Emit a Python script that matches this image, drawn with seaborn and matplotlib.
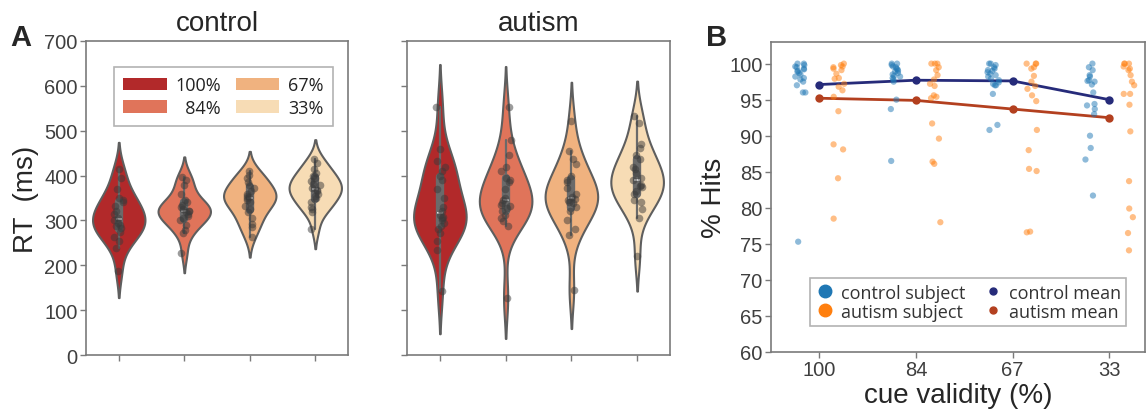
import numpy as np
import pandas as pd
import matplotlib
matplotlib.use("Agg")
import matplotlib.pyplot as plt
import seaborn as sns
from matplotlib.patches import Patch
from matplotlib.lines import Line2D

np.random.seed(3)

# ---------------- data ----------------
cue_levels = ["100%", "84%", "67%", "33%"]
cue_colors = ["#b2292a", "#e0745a", "#f0b27f", "#f7dcb5"]

# Panel A: reaction times (ms) per subject
rt_control_100 = [415, 395, 370, 350, 345, 340, 332, 320, 315, 305, 300, 295, 290, 288, 283, 275, 262, 255, 238, 187]
rt_control_84 = [397, 390, 380, 360, 345, 340, 335, 330, 325, 322, 320, 318, 315, 310, 305, 300, 290, 278, 272, 228]
rt_control_67 = [410, 402, 395, 385, 378, 372, 365, 360, 355, 352, 350, 345, 340, 332, 325, 318, 305, 292, 285, 262]
rt_control_33 = [437, 428, 415, 405, 400, 395, 388, 382, 378, 372, 368, 365, 360, 355, 350, 340, 330, 325, 318, 280]

rt_autism_100 = [553, 460, 432, 420, 410, 400, 390, 370, 350, 330, 320, 312, 308, 305, 302, 295, 288, 280, 272, 255, 235, 142]
rt_autism_84 = [552, 480, 445, 420, 410, 395, 390, 385, 370, 350, 345, 338, 335, 332, 328, 320, 312, 305, 298, 288, 128]
rt_autism_67 = [522, 455, 438, 425, 400, 390, 385, 372, 360, 352, 348, 345, 342, 338, 330, 320, 300, 282, 268, 145]
rt_autism_33 = [533, 517, 470, 462, 445, 437, 420, 415, 405, 395, 390, 380, 377, 375, 365, 360, 345, 340, 325, 305, 220]

# Panel B: % hits per subject
cue_validity = ["100", "84", "67", "33"]
hits_control_100 = [100, 100, 99.8, 99.6, 99.5, 99.3, 99.2, 99, 98.9, 98.7, 98.5, 98.2, 98, 97.8, 97.5, 97, 96, 96, 75.3]
hits_control_84 = [100, 100, 99.8, 99.6, 99.5, 99.3, 99.2, 99, 98.9, 98.7, 98.5, 98.3, 98.2, 98, 97.8, 97.5, 95, 93.7, 86.5]
hits_control_67 = [100, 100, 99.8, 99.5, 99.3, 99.1, 99, 98.8, 98.6, 98.4, 98.2, 97.9, 97.7, 97.4, 97.2, 97, 97, 95.8, 91.5, 90.8]
hits_control_33 = [100, 99.5, 99.1, 98.4, 98.2, 97.7, 97.6, 97.5, 97.1, 96, 94.4, 94.2, 93.7, 93, 90, 88.3, 86.7, 81.7]

hits_autism_100 = [100, 99.8, 99.6, 99.5, 99.3, 99.1, 98.6, 98, 97.9, 97.2, 96.8, 96.3, 95.4, 93.4, 88.8, 88.1, 84.1, 78.5]
hits_autism_84 = [100, 100, 100, 99.5, 99.1, 98.4, 97.8, 97.2, 96.9, 95.6, 95.4, 95.2, 91.7, 89.6, 86.4, 86.1, 78]
hits_autism_67 = [100, 100, 100, 99.5, 99.3, 98.3, 97.5, 96.9, 96.5, 95.6, 94.8, 90.8, 88, 85.4, 85.1, 76.7, 76.6]
hits_autism_33 = [100, 100, 100, 99.6, 99.3, 99.1, 98.4, 97.5, 97, 95.8, 95.8, 94.3, 90.6, 83.7, 79.9, 78.7, 76.5, 74.1]

control_mean = [97.1, 97.7, 97.6, 95.0]
autism_mean = [95.2, 94.9, 93.7, 92.5]

groups = ["control", "autism"]

# ---------------- build tables ----------------
def long_rt(lists):
    rows = []
    for lvl, vals in zip(cue_levels, lists):
        rows += [(lvl, v) for v in vals]
    return pd.DataFrame(rows, columns=["cue", "rt"])

df_rt = {
    "control": long_rt([rt_control_100, rt_control_84, rt_control_67, rt_control_33]),
    "autism": long_rt([rt_autism_100, rt_autism_84, rt_autism_67, rt_autism_33]),
}

rows = []
for grp, lists in [("control", [hits_control_100, hits_control_84, hits_control_67, hits_control_33]),
                   ("autism", [hits_autism_100, hits_autism_84, hits_autism_67, hits_autism_33])]:
    for cv, vals in zip(cue_validity, lists):
        rows += [(grp, cv, v) for v in vals]
df_hits = pd.DataFrame(rows, columns=["group", "cue", "hits"])
df_means = pd.DataFrame({"cue": cue_validity * 2,
                         "hits": control_mean + autism_mean,
                         "group": ["control"] * 4 + ["autism"] * 4})

# ---------------- style ----------------
sns.set_style("white")
plt.rcParams["font.family"] = ["Liberation Sans", "DejaVu Sans"]
spine_c = "#7a7a7a"
tick_c = "#3f3f3f"

W, H = 1147, 414
fig = plt.figure(figsize=(W / 100, H / 100), dpi=100)

def fax(l, t, r, b):
    return fig.add_axes([l / W, 1 - b / H, (r - l) / W, (b - t) / H])

axA1 = fax(86, 42, 348, 356)
axA2 = fax(407, 42, 670, 356)
axB = fax(771, 43, 1145, 353)

def style_axis(ax):
    for s in ax.spines.values():
        s.set_color(spine_c)
        s.set_linewidth(1.2)
    ax.tick_params(axis="both", which="major", direction="out", length=4, width=1,
                   color=spine_c, labelsize=14.5, labelcolor=tick_c, pad=2,
                   bottom=True, left=True, top=False, right=False)

for ax, grp in [(axA1, "control"), (axA2, "autism")]:
    d = df_rt[grp]
    sns.violinplot(data=d, x="cue", y="rt", hue="cue", order=cue_levels, hue_order=cue_levels,
                   palette=cue_colors, saturation=1, legend=False, inner="box",
                   inner_kws=dict(box_width=6, whis_width=1.6, color="#6a6a6a"),
                   linecolor="#5e5e5e", linewidth=1.5, width=0.8, ax=ax)
    sns.stripplot(data=d, x="cue", y="rt", order=cue_levels, color="#3a3a3a", alpha=0.5,
                  size=5.5, jitter=0.08, ax=ax)
    ax.set_ylim(0, 700)
    ax.set_xlim(-0.5, 3.5)
    ax.set_yticks(range(0, 701, 100))
    ax.set_xticklabels([])
    ax.set_xlabel("")
    ax.set_ylabel("")
    ax.set_title(grp, fontsize=20, pad=8)
    style_axis(ax)

axA1.set_ylabel("RT  (ms)", fontsize=20, labelpad=4)
axA2.set_yticklabels([])

handles = [Patch(facecolor=c, edgecolor="none", label=l) for c, l in zip(cue_colors, ["100%", "  84%", "67%", "33%"])]
legA = axA1.legend(handles=handles, ncol=2, loc="upper center", bbox_to_anchor=(0.525, 0.945),
                   fancybox=False, edgecolor="#a0a0a0", handlelength=2.4,
                   handleheight=0.7, handletextpad=0.5, columnspacing=0.8, labelspacing=0.25,
                   borderpad=0.5, prop={"family": ["Open Sans", "DejaVu Sans"], "size": 13})
legA.get_frame().set_linewidth(1.2)

# ---------------- panel B ----------------
sns.stripplot(data=df_hits, x="cue", y="hits", hue="group", order=cue_validity,
              hue_order=groups, palette=["#1f77b4", "#ff7f0e"], dodge=True, jitter=0.12,
              alpha=0.5, size=4.5, legend=False, ax=axB)
sns.pointplot(data=df_means, x="cue", y="hits", hue="group", order=cue_validity,
              hue_order=groups, palette=["#262b7a", "#b3401f"], markers="o",
              markersize=4.5, linewidth=2, errorbar=None, legend=False, ax=axB)
axB.set_ylim(60, 103)
axB.set_xlim(-0.5, 3.37)
axB.set_yticks(range(60, 101, 5))
axB.set_xlabel("cue validity (%)", fontsize=20, labelpad=2)
axB.set_ylabel("% Hits", fontsize=20, labelpad=2)
style_axis(axB)

hB = [Line2D([], [], ls="none", marker="o", markersize=9, color="#1f77b4", label="control subject"),
      Line2D([], [], ls="none", marker="o", markersize=9, color="#ff7f0e", label="autism subject"),
      Line2D([], [], ls="none", marker="o", markersize=5, color="#262b7a", label="control mean"),
      Line2D([], [], ls="none", marker="o", markersize=5, color="#b3401f", label="autism mean")]
legB = axB.legend(handles=hB, ncol=2, loc="lower center", bbox_to_anchor=(0.528, 0.055),
                  fancybox=False, edgecolor="#a0a0a0", handlelength=1.0, handletextpad=0.4,
                  columnspacing=1.0, labelspacing=0.05, borderpad=0.3,
                  prop={"family": ["Open Sans", "DejaVu Sans"], "size": 13})
legB.get_frame().set_linewidth(1.2)
for t in legB.get_texts():
    t.set_color("#333333")
for t in legA.get_texts():
    t.set_color("#222222")

fig.text(21 / W, 1 - 38 / H, "A", fontsize=21, fontweight="bold", ha="center", va="center")
fig.text(717 / W, 1 - 38 / H, "B", fontsize=21, fontweight="bold", ha="center", va="center")

fig.savefig("out.png", dpi=100)
